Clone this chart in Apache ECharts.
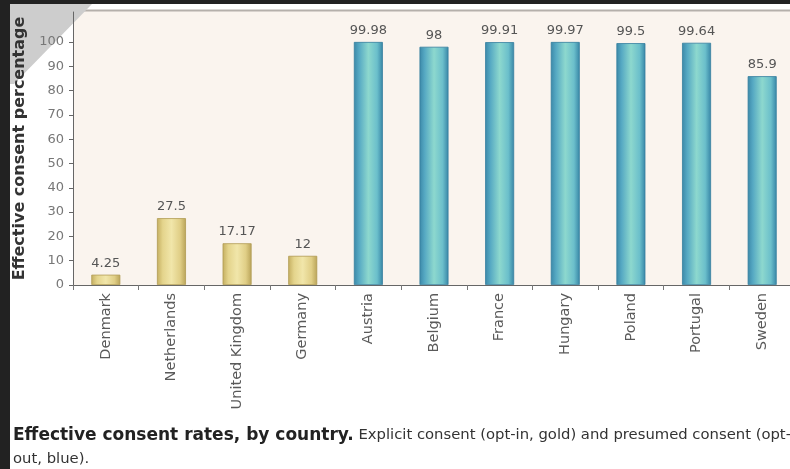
<!DOCTYPE html>
<html><head><meta charset="utf-8">
<script src="https://cdn.jsdelivr.net/npm/echarts@6/dist/echarts.min.js"></script>
<style>html,body{margin:0;padding:0;background:#fff;overflow:hidden}#c{width:800px;height:469px}</style>
</head><body><div id="c"></div>
<script>
const categories = ["Denmark","Netherlands","United Kingdom","Germany","Austria","Belgium","France","Hungary","Poland","Portugal","Sweden"];
const optInValues = [4.25, 27.5, 17.17, 12, null, null, null, null, null, null, null];
const optOutValues = [null, null, null, null, 99.98, 98, 99.91, 99.97, 99.5, 99.64, 85.9];
const yTicks = [0,10,20,30,40,50,60,70,80,90,100];

const FONT = '"DejaVu Sans", Verdana, sans-serif';
const gold = {type:'linear',x:0,y:0,x2:1,y2:0,colorStops:[
  {offset:0,color:'#c4ae60'},{offset:0.2,color:'#e4d48c'},{offset:0.5,color:'#f1e6aa'},{offset:0.8,color:'#e0ce86'},{offset:1,color:'#b9a358'}]};
const teal = {type:'linear',x:0,y:0,x2:1,y2:0,colorStops:[
  {offset:0,color:'#3b88a8'},{offset:0.18,color:'#56a9c3'},{offset:0.5,color:'#8dd8ce'},{offset:0.8,color:'#6bbfcb'},{offset:1,color:'#3785a6'}]};

const chart = echarts.init(document.getElementById('c'));
const labelCfg = {show:true, position:'top', distance:5, color:'#555', fontSize:13, fontFamily:FONT};
chart.setOption({
  animation:false,
  graphic:[
    {type:'rect', shape:{x:73,y:10,width:727,height:275}, style:{fill:'#faf4ee'}, z:-2},
    {type:'line', shape:{x1:73,y1:10.5,x2:800,y2:10.5}, style:{stroke:'#b5b0ab',lineWidth:2}, z:-1},
    {type:'polygon', shape:{points:[[10,4],[92,4],[14,84],[10,84]]}, style:{fill:'#cdcdcd'}, z:-1},
    {type:'rect', shape:{x:0,y:0,width:10,height:469}, style:{fill:'#222'}, z:100},
    {type:'rect', shape:{x:0,y:0,width:800,height:4}, style:{fill:'#222'}, z:100},
    {type:'text', left:13, top:427, z:100, style:{
      text:'{b|Effective consent rates, by country.} Explicit consent (opt-in, gold) and presumed consent (opt-',
      fill:'#333', fontFamily:FONT, fontSize:14.8,
      rich:{b:{fontWeight:'bold', fill:'#222', fontFamily:FONT, fontSize:17}}}},
    {type:'text', left:13, top:452, z:100, style:{text:'out, blue).', fill:'#333', fontFamily:FONT, fontSize:14.8}}
  ],
  grid:{left:73, top:12, width:722, height:273, containLabel:false},
  xAxis:{type:'category', data:categories,
    axisLine:{lineStyle:{color:'#666', width:1}},
    axisTick:{show:true, length:5, lineStyle:{color:'#777'}},
    axisLabel:{rotate:90, color:'#5a5a5a', fontSize:14.5, margin:8, fontFamily:FONT, interval:0}},
  yAxis:{type:'value', min:0, max:112.3, interval:10,
    name:'Effective consent percentage', nameLocation:'middle', nameGap:44, nameRotate:90,
    nameTextStyle:{fontWeight:'bold', fontSize:16, color:'#333', fontFamily:FONT},
    axisLine:{show:true, lineStyle:{color:'#666'}},
    axisTick:{show:true, length:4, customValues:yTicks, lineStyle:{color:'#666'}},
    axisLabel:{customValues:yTicks, color:'#777', fontSize:13, margin:9, fontFamily:FONT},
    splitLine:{show:false}},
  series:[
    {name:'Explicit consent (opt-in)', type:'bar', data:optInValues, barWidth:29, barGap:'-100%',
      itemStyle:{color:gold, borderColor:'#b09a52', borderWidth:0.8}, label:labelCfg},
    {name:'Presumed consent (opt-out)', type:'bar', data:optOutValues, barWidth:29,
      itemStyle:{color:teal, borderColor:'#357f9e', borderWidth:0.8}, label:labelCfg}
  ]
});
</script></body></html>
